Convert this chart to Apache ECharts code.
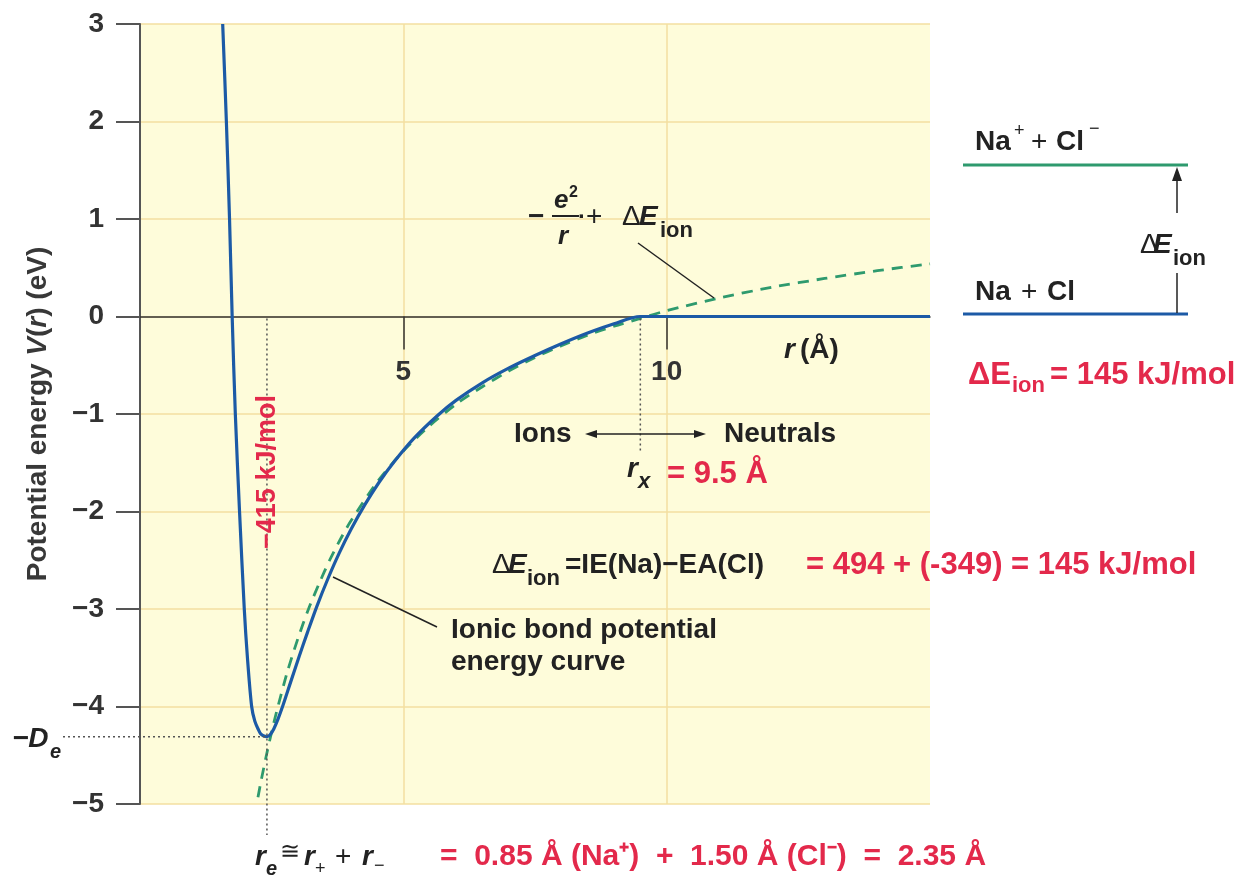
<!DOCTYPE html>
<html><head><meta charset="utf-8">
<script src="https://cdn.jsdelivr.net/npm/echarts@6/dist/echarts.min.js"></script>
<style>html,body{margin:0;padding:0;background:#fff}#c{width:1238px;height:882px}</style>
</head><body><div id="c"></div>
<script>
// ---- data ----
const yTickValues = [-5, -4, -3, -2, -1, 0, 1, 2, 3];
const xTickValues = [5, 10];
// ionic bond potential energy curve: [r (Å), V (eV)]
const ionicCurve = [
  [1.57, 3.0], [1.64, 2.0], [1.70, 1.0], [1.75, 0.0], [1.81, -1.0], [1.89, -2.0],
  [1.98, -3.0], [2.04, -3.5], [2.12, -4.0], [2.18, -4.15], [2.25, -4.24], [2.29, -4.28],
  [2.34, -4.30], [2.41, -4.31], [2.47, -4.29], [2.54, -4.23], [2.62, -4.13], [2.72, -3.98],
  [2.86, -3.75], [3.02, -3.49], [3.18, -3.24], [3.36, -2.97], [3.56, -2.70], [3.78, -2.43],
  [4.01, -2.18], [4.27, -1.93], [4.54, -1.70], [4.84, -1.48], [5.20, -1.25], [5.64, -1.02],
  [6.00, -0.86], [6.50, -0.68], [7.00, -0.53], [7.50, -0.40], [8.00, -0.28], [8.50, -0.17],
  [9.00, -0.075], [9.50, 0.0], [10.0, 0.0], [12.0, 0.0], [15.0, 0.0]
];
// -e^2/r + ΔE_ion (dashed)
const coulombCurve = [
  [2.24, -4.93], [2.30, -4.76], [2.40, -4.50], [2.50, -4.26], [2.60, -4.04], [2.80, -3.64],
  [3.00, -3.30], [3.20, -3.00], [3.40, -2.74], [3.60, -2.50], [3.80, -2.29], [4.00, -2.10],
  [4.50, -1.70], [5.00, -1.38], [5.50, -1.12], [6.00, -0.90], [6.50, -0.72], [7.00, -0.56],
  [7.50, -0.42], [8.00, -0.30], [8.50, -0.19], [9.00, -0.10], [9.50, -0.02], [10.0, 0.06],
  [11.0, 0.19], [12.0, 0.30], [13.0, 0.39], [14.0, 0.47], [15.0, 0.54]
];
const equilibrium = [2.41, -4.31];   // r_e, -D_e
const crossing = [9.5, 0];           // r_x

const F = '"Liberation Sans", Arial, Helvetica, sans-serif';
const RED = '#e3294b', INK = '#222', BLUE = '#1c5aa6', GREEN = '#2e9a6e', GRID = '#f3dfa0';

const chart = echarts.init(document.getElementById('c'));
chart.setOption({
  animation: false,
  backgroundColor: '#fff',
  grid: { left: 140, right: 308, top: 24, bottom: 78, show: true, backgroundColor: '#fefcda', borderWidth: 0 },
  xAxis: {
    type: 'value', min: 0, max: 15, interval: 5,
    axisLine: { onZero: true, lineStyle: { color: '#333', width: 1.5 } },
    axisTick: { show: true, inside: false, length: 33, customValues: xTickValues, lineStyle: { color: '#333', width: 1.5 } },
    axisLabel: { show: false },
    splitLine: { show: true, lineStyle: { color: GRID, width: 1.5 } }
  },
  yAxis: {
    type: 'value', min: -5, max: 3, interval: 1,
    axisLine: { show: true, onZero: false, lineStyle: { color: '#555', width: 2 } },
    axisTick: { show: true, inside: false, length: 24, lineStyle: { color: '#555', width: 2 } },
    axisLabel: { margin: 36, fontFamily: F, fontWeight: 'bold', fontSize: 28, color: '#333',
      formatter: v => (v < 0 ? '\u2212' + Math.abs(v) : String(v)) },
    splitLine: { show: true, lineStyle: { color: GRID, width: 1.5 } }
  },
  series: [
    { type: 'line', data: coulombCurve, showSymbol: false, smooth: 0.25, z: 3,
      lineStyle: { color: GREEN, width: 2.8, type: [11, 8] } },
    { type: 'line', data: ionicCurve, showSymbol: false, smooth: 0.3, z: 4,
      lineStyle: { color: BLUE, width: 3.2 } }
  ]
});

const P = (x, y) => chart.convertToPixel({ gridIndex: 0 }, [x, y]);
function fontOf(o) { return (o.italic ? 'italic ' : '') + (o.weight || 'bold') + ' ' + (o.size || 28) + 'px ' + F; }
function txt(x, y, s, o = {}) {
  const al = o.align || 'left';
  return { type: 'text', x: x, y: y, rotation: o.rot || 0, z: 100,
    style: { text: s, font: fontOf(o), fill: o.color || INK, textAlign: al, align: al,
      verticalAlign: 'middle', textVerticalAlign: 'middle' } };
}
function ln(x1, y1, x2, y2, o = {}) {
  return { type: 'line', z: 90, shape: { x1, y1, x2, y2 },
    style: { stroke: o.color || INK, lineWidth: o.w || 1.5, lineDash: o.dash || null } };
}
function tri(pts, color) { return { type: 'polygon', z: 95, shape: { points: pts }, style: { fill: color || INK } }; }
const mctx = document.createElement('canvas').getContext('2d');
function measure(s, o) { mctx.font = fontOf(o); return mctx.measureText(s).width; }

const pe = P(equilibrium[0], equilibrium[1]);
const p0 = P(equilibrium[0], 0);
const px = P(crossing[0], crossing[1]);
const pxb = P(crossing[0], -1.38);
const pMid = P(0, -1);
const dot = [2, 3];
const g = [];
// y-axis title (rotated, reading upward), pieces laid out by measured width
const titleParts = [['Potential energy ', {}], ['V', { italic: true }], ['(', {}], ['r', { italic: true }], [') (eV)', {}]];
let tw = 0; titleParts.forEach(p => { tw += measure(p[0], p[1]); });
let ty = pMid[1] + tw / 2;
titleParts.forEach(p => {
  g.push(txt(38, ty, p[0], Object.assign({ rot: Math.PI / 2, color: '#383838' }, p[1])));
  ty -= measure(p[0], p[1]);
});
// x tick labels (placed under the zero axis line)
xTickValues.forEach(v => { const p = P(v, 0); g.push(txt(p[0], p[1] + 56, String(v), { align: 'center', color: '#333' })); });
// -D_e and r_e guides
g.push(ln(63, pe[1], pe[0], pe[1], { dash: dot, color: '#555' }));
g.push(ln(p0[0], p0[1] + 2, p0[0], 835, { dash: dot, color: '#555' }));
g.push(txt(12, pe[1] + 3, '\u2212D', { italic: true }));
g.push(txt(50, pe[1] + 16, 'e', { italic: true, size: 20 }));
g.push(txt(p0[0] + 1, 472, '\u2212415 kJ/mol', { color: RED, size: 27, rot: Math.PI / 2, align: 'center' }));
// r_x guide
g.push(ln(px[0], px[1] + 2, pxb[0], pxb[1], { dash: dot, color: '#555' }));
// formula -e^2/r + ΔE_ion
g.push(txt(528, 217, '\u2212', { size: 28 }));
g.push(txt(554, 201, 'e', { italic: true, size: 26 }));
g.push(txt(569, 193, '2', { size: 16 }));
g.push(ln(552, 216, 579, 216, { w: 2 }));
g.push(txt(558, 237, 'r', { italic: true, size: 26 }));
g.push(txt(578, 217, '\u00b7', { size: 24 }));
g.push(txt(586, 217, '+', { weight: 'normal' }));
g.push(txt(622, 217, '\u0394', { weight: 'normal' }));
g.push(txt(639, 217, 'E', { italic: true }));
g.push(txt(660, 231, 'ion', { size: 22 }));
g.push(ln(638, 243, 714, 298));
// r (Å)
g.push(txt(784, 350, 'r', { italic: true }));
g.push(txt(800, 350, '(\u00c5)'));
// Ions <-> Neutrals
g.push(txt(514, 434, 'Ions'));
g.push(ln(592, 434, 699, 434, { w: 1.5 }));
g.push(tri([[585, 434], [597, 430], [597, 438]]));
g.push(tri([[706, 434], [694, 430], [694, 438]]));
g.push(txt(724, 434, 'Neutrals'));
// r_x = 9.5 Å
g.push(txt(627, 469, 'r', { italic: true }));
g.push(txt(638, 482, 'x', { italic: true, size: 22 }));
g.push(txt(667, 474, '= 9.5 \u00c5', { color: RED, size: 31 }));
// ΔE_ion equation
g.push(txt(492, 565, '\u0394', { weight: 'normal' }));
g.push(txt(508, 565, 'E', { italic: true }));
g.push(txt(527, 579, 'ion', { size: 22 }));
g.push(txt(565, 565, '=IE(Na)\u2212EA(Cl)'));
g.push(txt(806, 565, '= 494 + (-349) = 145 kJ/mol', { color: RED, size: 31 }));
// Ionic bond curve label
g.push(ln(333, 577, 437, 627));
g.push(txt(451, 630, 'Ionic bond potential'));
g.push(txt(451, 662, 'energy curve'));
// right-hand level diagram
g.push(ln(963, 165, 1188, 165, { color: GREEN, w: 3 }));
g.push(ln(963, 314, 1188, 314, { color: BLUE, w: 3 }));
g.push(txt(975, 142, 'Na'));
g.push(txt(1014, 131, '+', { size: 18, weight: 'normal' }));
g.push(txt(1031, 142, '+', { weight: 'normal' }));
g.push(txt(1056, 142, 'Cl'));
g.push(txt(1089, 129, '\u2212', { size: 18, weight: 'normal' }));
g.push(txt(975, 292, 'Na'));
g.push(txt(1021, 292, '+', { weight: 'normal' }));
g.push(txt(1047, 292, 'Cl'));
g.push(ln(1177, 213, 1177, 178, { w: 1.5 }));
g.push(tri([[1177, 167], [1172, 181], [1182, 181]]));
g.push(ln(1177, 273, 1177, 313, { w: 1.5 }));
g.push(txt(1140, 245, '\u0394', { weight: 'normal' }));
g.push(txt(1153, 245, 'E', { italic: true }));
g.push(txt(1173, 259, 'ion', { size: 22 }));
g.push(txt(968, 375, '\u0394E', { color: RED, size: 31 }));
g.push(txt(1012, 386, 'ion', { color: RED, size: 22 }));
g.push(txt(1050, 375, '= 145 kJ/mol', { color: RED, size: 31 }));
// bottom relation
g.push(txt(255, 857, 'r', { italic: true }));
g.push(txt(266, 869, 'e', { italic: true, size: 20 }));
g.push(txt(280, 852, '\u2245', { weight: 'normal', size: 24 }));
g.push(txt(304, 857, 'r', { italic: true }));
g.push(txt(315, 869, '+', { size: 18, weight: 'normal' }));
g.push(txt(335, 857, '+', { weight: 'normal' }));
g.push(txt(362, 857, 'r', { italic: true }));
g.push(txt(374, 866, '\u2212', { size: 18, weight: 'normal' }));
g.push(txt(440, 857, '=  0.85 \u00c5 (Na\u207a)  +  1.50 \u00c5 (Cl\u207b)  =  2.35 \u00c5', { color: RED, size: 30 }));

chart.setOption({ graphic: g });
</script></body></html>
